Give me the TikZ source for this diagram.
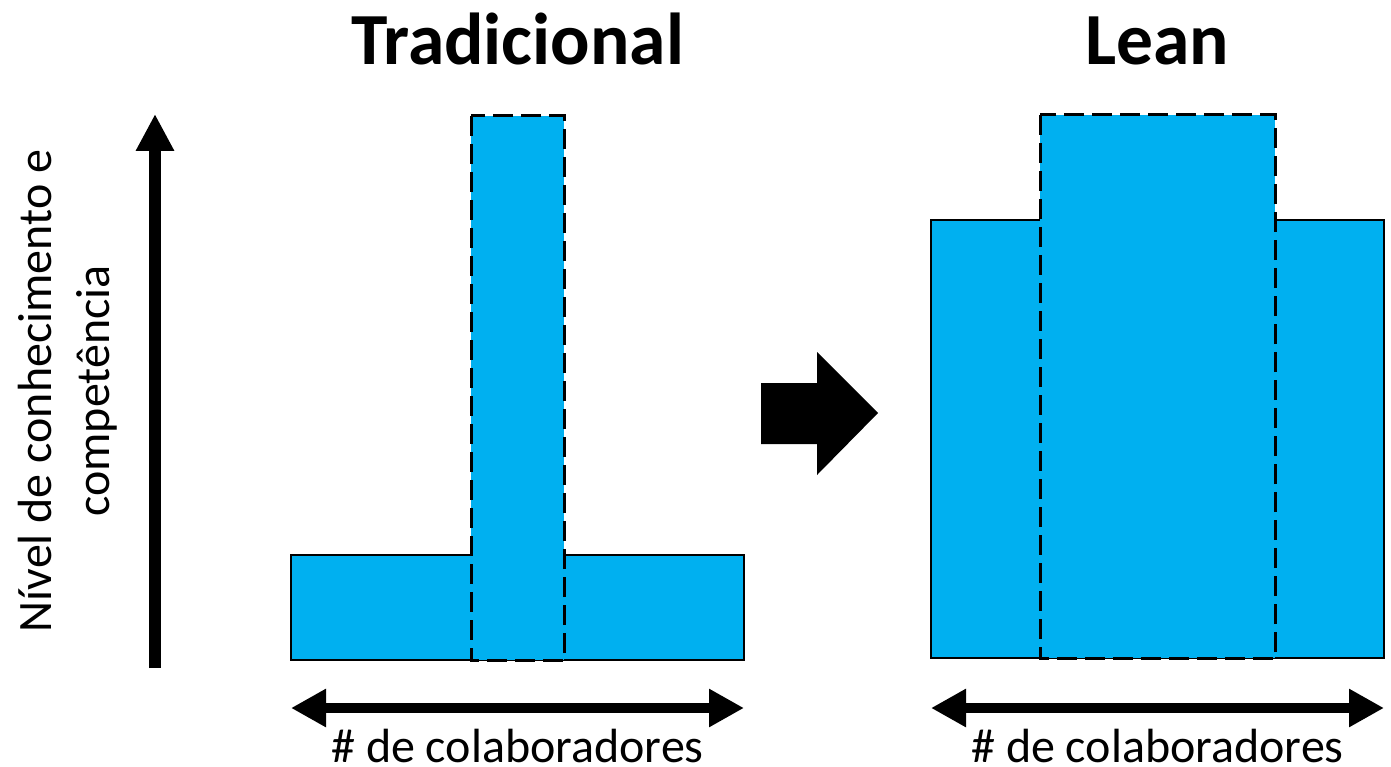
\documentclass[tikz,border=0pt]{standalone}
\usepackage{fontspec}
\setmainfont{Carlito}
\usetikzlibrary{arrows.meta}
\definecolor{barblue}{HTML}{00B0F0}
\begin{document}
\begin{tikzpicture}[x=1pt,y=-1pt,
  bar/.style={fill=barblue,draw=black,line width=2.8pt},
  dashbar/.style={fill=barblue,draw=black,line width=3pt,dash pattern=on 20pt off 8pt},
  title/.style={font=\bfseries\fontsize{73.5}{88}\selectfont,anchor=base,inner sep=0pt},
  axislabel/.style={font=\fontsize{48}{58}\selectfont,anchor=base,inner sep=0pt,text depth=0pt},
  haxis/.style={line width=10.5pt,{Triangle[length=35pt,width=36pt]}-{Triangle[length=35pt,width=36pt]}},
  vaxis/.style={line width=12pt,-{Triangle[length=37pt,width=36pt]}}]
\useasboundingbox (0,0) rectangle (1391,767);
% titles
\node[title] (t1) at (517.5,65) {Tradicional};
\node[title] (t2) at (1157.5,65) {Lean};
% Traditional bars
\draw[bar] (291,555) rectangle (744,660);
\draw[dashbar] (471,116) rectangle (564,660);
% Lean bars
\draw[bar] (931,220) rectangle (1384,658);
\draw[dashbar] (1040,115) rectangle (1275,658);
% vertical axis
\coordinate (vb) at (155,668);
\coordinate (vt) at (155,114);
\draw[vaxis] (vb) -- (vt);
\node[font=\fontsize{48}{58}\selectfont,align=center,rotate=90,inner sep=0pt] (ylab) at (68,391) {Nível de conhecimento e\\competência};
% horizontal axes
\coordinate (h1l) at (291,708);
\coordinate (h1r) at (744,708);
\draw[haxis] (h1l) -- (h1r);
\coordinate (h2l) at (931,708);
\coordinate (h2r) at (1384,708);
\draw[haxis] (h2l) -- (h2r);
\node[axislabel] (x1) at (517.5,762) {\# de colaboradores};
\node[axislabel] (x2) at (1157.5,762) {\# de colaboradores};
% block arrow
\fill[black] (761,383) -- (817,383) -- (817,352) -- (878,413) -- (817,475) -- (817,444) -- (761,444) -- cycle;
\end{tikzpicture}
\end{document}
